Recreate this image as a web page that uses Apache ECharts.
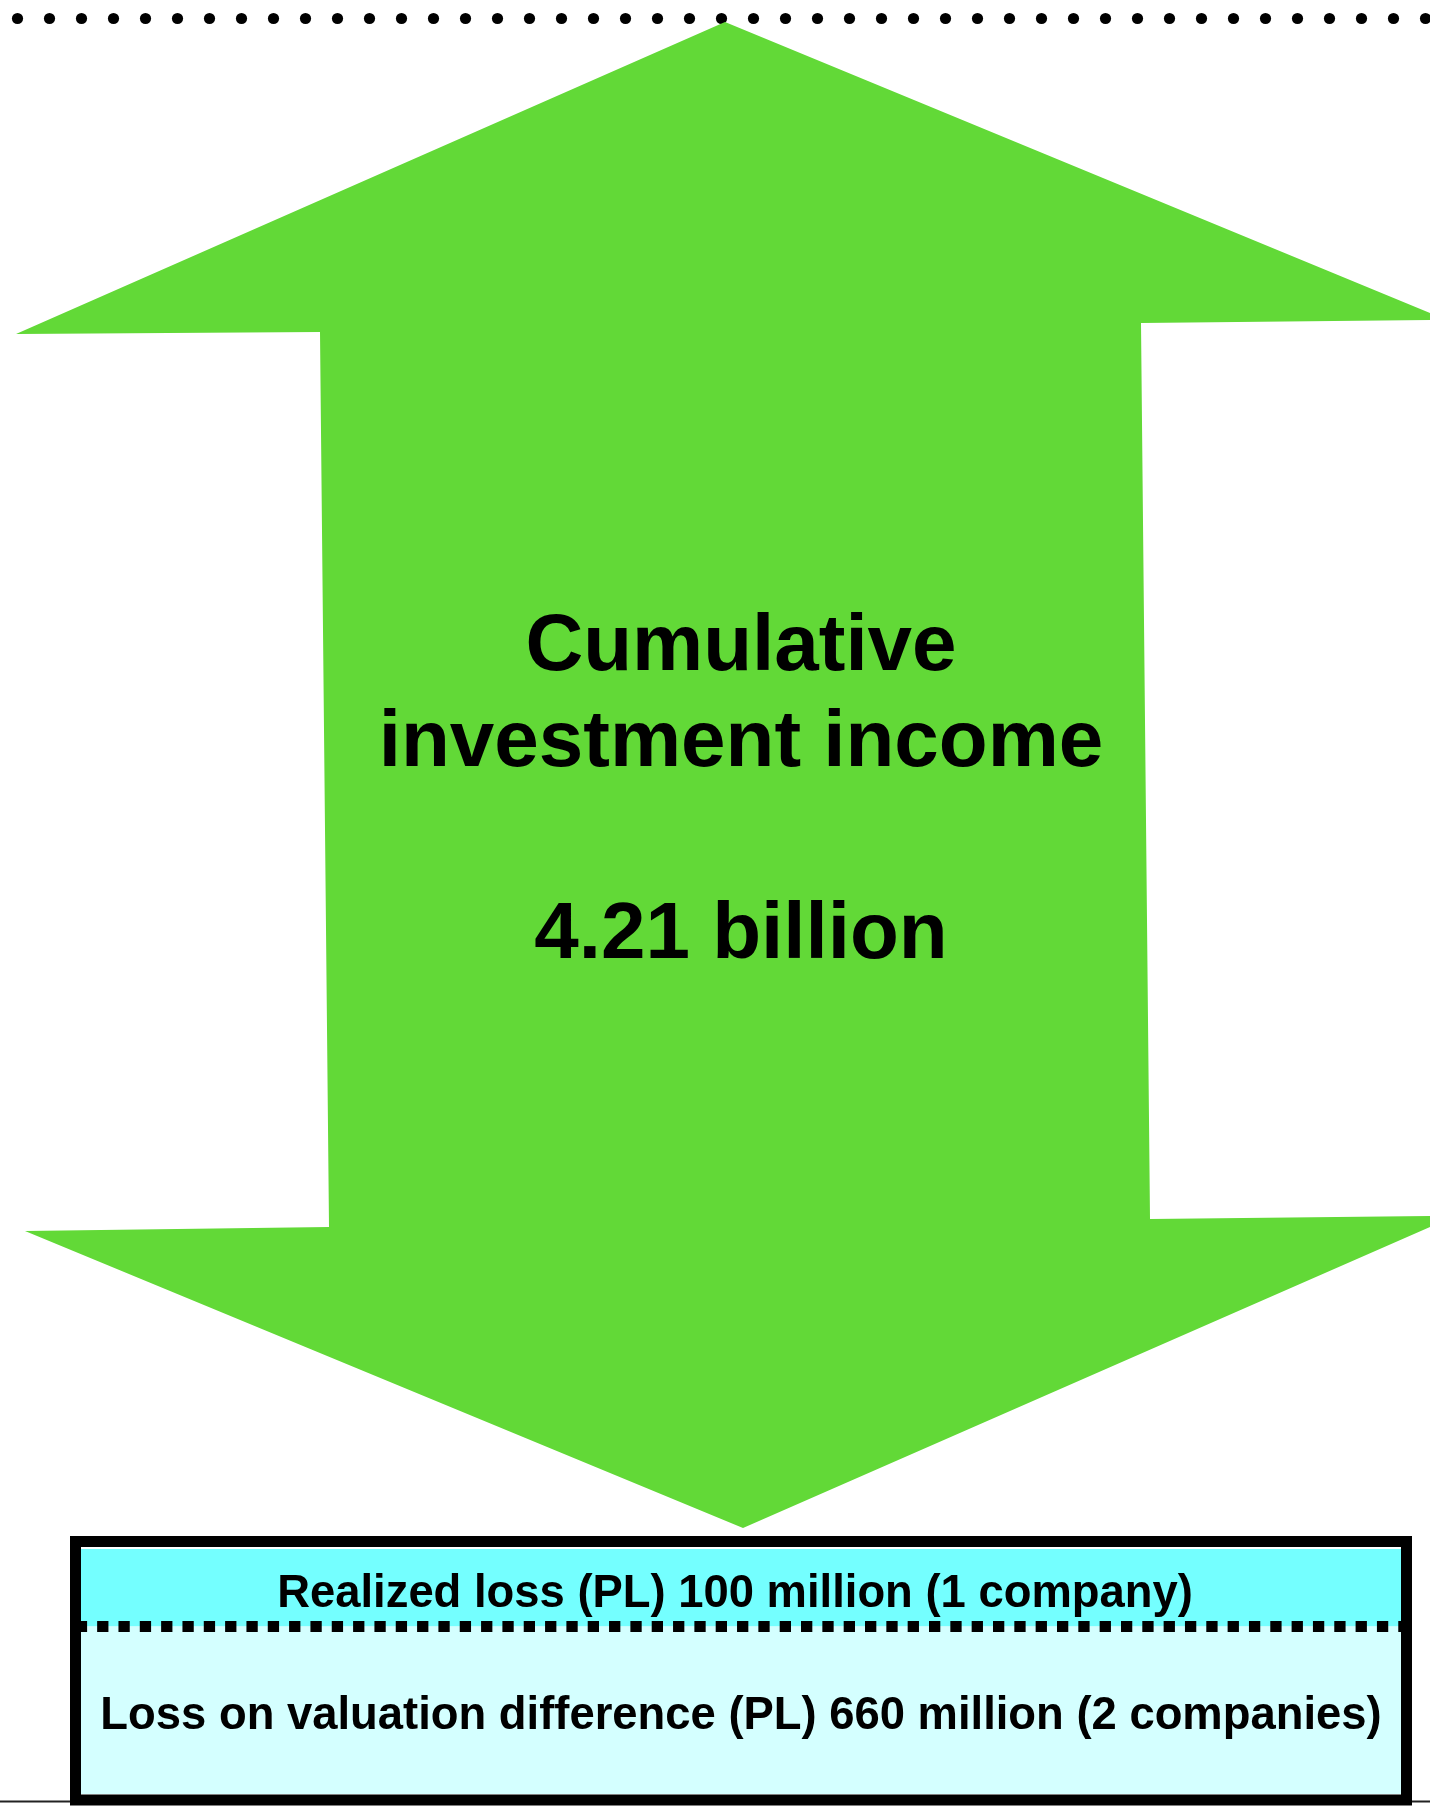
<!DOCTYPE html>
<html>
<head>
<meta charset="utf-8">
<script src="https://cdn.jsdelivr.net/npm/echarts@6/dist/echarts.min.js"></script>
<style>
html,body{margin:0;padding:0;background:#fff;}
#chart{width:1430px;height:1809px;}
</style>
</head>
<body>
<div id="chart"></div>
<script>
// ---- content ----
const incomeTitle = ['Cumulative', 'investment income'];
const incomeTotal = ['4.21 billion'];
const lossTypes = ['Realized loss (PL)', 'Loss on valuation difference (PL)'];
const lossAmounts = ['100 million', '660 million'];
const lossCounts = ['1 company', '2 companies'];

// ---- geometry (diagram units = px on a 1430 x 1809 canvas) ----
const arrowOutline = [
  [725, 22], [1430, 313], [1430, 320], [1141, 323], [1150, 1219],
  [1430, 1216], [1430, 1227], [743, 1528], [25, 1231], [329, 1227],
  [320, 332], [16, 334]
];

const chart = echarts.init(document.getElementById('chart'), null, {renderer: 'canvas'});
const FONT = '"Liberation Sans", Arial, Helvetica, sans-serif';

function renderItem(params, api) {
  const P = (x, y) => api.coord([x, y]);
  const children = [];
  // top dotted line
  for (let x = 17.5; x < 1436; x += 32) {
    const c = P(x, 18.5);
    children.push({type: 'circle', shape: {cx: c[0], cy: c[1], r: 5.6}, style: {fill: '#000'}});
  }
  // arrow
  children.push({type: 'polygon', shape: {points: arrowOutline.map(p => P(p[0], p[1]))}, style: {fill: '#62D937'}});
  // box fills
  const a = P(81, 1549), b = P(1401, 1626.5), d = P(1401, 1794);
  children.push({type: 'rect', shape: {x: a[0], y: a[1], width: b[0] - a[0], height: b[1] - a[1]}, style: {fill: '#74FFFF'}});
  children.push({type: 'rect', shape: {x: a[0], y: b[1], width: d[0] - a[0], height: d[1] - b[1]}, style: {fill: '#D4FFFF'}});
  // dashed separator
  for (let x = 75.8; x < 1402; x += 21.33) {
    const s = P(x, 1621), e = P(x + 11.3, 1632);
    children.push({type: 'rect', shape: {x: s[0], y: s[1], width: e[0] - s[0], height: e[1] - s[1]}, style: {fill: '#000'}});
  }
  // baseline
  const l1 = P(0, 1801.5), l2 = P(1430, 1801.5);
  children.push({type: 'line', shape: {x1: l1[0], y1: l1[1], x2: l2[0], y2: l2[1]}, style: {stroke: '#222', lineWidth: 2}});
  // border
  const o1 = P(75.5, 1541.5), o2 = P(1406.5, 1800);
  children.push({type: 'rect', shape: {x: o1[0], y: o1[1], width: o2[0] - o1[0], height: o2[1] - o1[1]}, style: {fill: null, stroke: '#000', lineWidth: 11}});
  // arrow text
  const bigLines = [[incomeTitle[0], 648], [incomeTitle[1], 744], [incomeTotal[0], 936]];
  bigLines.forEach(([t, y]) => {
    const c = P(741, y);
    children.push({type: 'text', style: {text: t, x: c[0], y: c[1], fill: '#000', font: 'bold 80px ' + FONT, align: 'center', verticalAlign: 'middle'}});
  });
  // box text
  const boxLines = [[735, 1594], [741, 1716]];
  lossTypes.forEach((t, i) => {
    const c = P(boxLines[i][0], boxLines[i][1]);
    children.push({type: 'text', style: {text: t + ' ' + lossAmounts[i] + ' (' + lossCounts[i] + ')', x: c[0], y: c[1], fill: '#000', font: 'bold 45.4px ' + FONT, align: 'center', verticalAlign: 'middle'}});
  });
  return {type: 'group', children};
}

chart.setOption({
  animation: false,
  backgroundColor: '#ffffff',
  grid: {left: 0, right: 0, top: 0, bottom: 0},
  xAxis: {type: 'value', min: 0, max: 1430, show: false},
  yAxis: {type: 'value', min: 0, max: 1809, inverse: true, show: false},
  series: [{type: 'custom', renderItem, data: [[0, 0]], clip: false, silent: true}]
});
</script>
</body>
</html>
